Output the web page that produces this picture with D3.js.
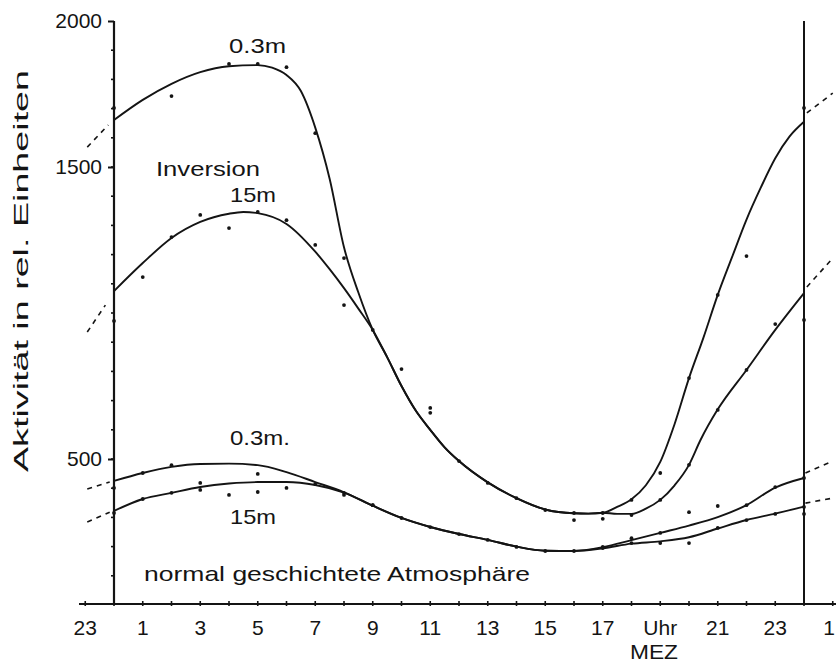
<!DOCTYPE html>
<html><head><meta charset="utf-8">
<script src="https://cdn.jsdelivr.net/npm/d3@7"></script>
<style>
body{margin:0;background:#fff}
text{font-family:"Liberation Sans",Arial,sans-serif;fill:#141414}
</style>
</head><body><svg id="c" width="836" height="664"></svg>
<script>
// ---------- data (hour of day MEZ, activity in rel. units) ----------
const inversion03Curve = [[0,1661],[1,1730],[2,1785],[3,1825],[4,1845],[5,1849],[5.5,1840],[6,1815],[6.5,1760],[7,1635],[7.5,1460],[8,1225],[8.5,1070],[9,942],[9.5,849],[10,750],[10.5,665],[11,600],[11.5,540],[12,493],[13,420],[14,366],[15,327],[16,314],[16.5,313],[17,316],[17.5,336],[18,362],[18.5,410],[19,490],[19.5,620],[20,777],[20.5,915],[21,1062],[21.5,1192],[22,1320],[22.5,1430],[23,1530],[23.5,1605],[24,1655]];
const inversion15Curve = [[0,1075],[1,1171],[2,1257],[3,1312],[4,1340],[4.5,1346],[5,1342],[6,1305],[7,1210],[7.5,1150],[8,1085],[8.5,1015],[9,942],[9.5,849],[10,750],[10.5,665],[11,600],[11.5,540],[12,493],[13,420],[14,366],[15,327],[16,314],[16.5,313],[17,316],[17.5,312],[18,312],[18.5,330],[19,360],[19.5,410],[20,480],[20.4,565],[21,670],[22,805],[23,942],[24,1068]];
const normal03Curve = [[0,425],[1,452],[2,473],[3,483],[4,484],[5,479],[6,455],[7,421],[8,386],[9,340],[10,298],[11,267],[12,243],[13,223],[14,200],[15,186],[16,185],[17,198],[18,222],[19,247],[20,272],[21,301],[22,342],[23,402],[24,435]];
const normal15Curve = [[0,322],[1,363],[2,384],[3,404],[4,416],[5,421],[6,421],[7,411],[8,385],[9,340],[10,298],[11,267],[12,243],[13,223],[14,200],[15,186],[16,185],[17,194],[18,210],[19,218],[20,232],[21,262],[22,291],[23,313],[24,337]];

const inversion03Dots = [[0,1702],[2,1743],[4,1853],[5,1853],[6,1842],[7,1616],[8,1188],[10,808],[11,675],[11,658],[12,493],[13,418],[14,366],[15,325],[16,291],[17,295],[18,360],[19,452],[20,777],[21,1062],[22,1195],[24,1702]];
const inversion15Dots = [[0,973],[1,1123],[2,1260],[3,1336],[4,1291],[5,1346],[6,1318],[7,1233],[8,1027],[9,942],[16,315],[17,315],[18,308],[19,360],[20,480],[21,668],[22,805],[23,962],[24,976]];
const normal03Dots = [[0,401],[1,452],[2,479],[3,418],[5,449],[7,414],[8,384],[9,342],[10,298],[11,267],[12,243],[13,223],[14,199],[15,185],[16,185],[17,199],[18,229],[19,247],[20,318],[21,339],[22,342],[23,404],[24,435]];
const normal15Dots = [[0,315],[1,363],[2,384],[3,394],[4,377],[5,387],[6,401],[8,377],[9,342],[17,195],[18,212],[19,212],[20,212],[21,264],[22,291],[23,312],[24,336],[24,312]];

const inversion03Ext = [[[-0.93,1568],[-0.2,1644]],[[24.1,1685],[25,1753]]];
const inversion15Ext = [[[-0.93,935],[-0.3,1027]],[[24.1,1089],[25,1188]]];
const normal03Ext = [[[-0.93,397],[-0.15,421]],[[24.05,452],[25,493]]];
const normal15Ext = [[[-0.93,284],[-0.15,318]],[[24.05,349],[25,366]]];

const xLabelHours = [-1,1,3,5,7,9,11,13,15,17,19,21,23,25];
const xTickLabels = ["23","1","3","5","7","9","11","13","15","17","Uhr","21","23","1"];
const yLabelTicks = [500,1500,2000];

// ---------- drawing ----------
const svg = d3.select("#c");
const ink = "#141414";
const x = d3.scaleLinear().domain([0,24]).range([114,804]);
const y = d3.scaleLinear().domain([0,2000]).range([605,21]);
const axisY = 604;

// axes lines
svg.append("line").attr("x1",79).attr("x2",836).attr("y1",axisY).attr("y2",axisY).attr("stroke",ink).attr("stroke-width",2.2);
svg.append("line").attr("x1",x(0)).attr("x2",x(0)).attr("y1",y(2000)).attr("y2",axisY).attr("stroke",ink).attr("stroke-width",2.2);
svg.append("line").attr("x1",x(24)).attr("x2",x(24)).attr("y1",y(2000)).attr("y2",axisY).attr("stroke",ink).attr("stroke-width",2);

// x hour ticks
svg.append("g").selectAll("line").data(d3.range(-1,26)).join("line")
  .attr("x1",d=>x(d)).attr("x2",d=>x(d)).attr("y1",axisY-3).attr("y2",axisY+2)
  .attr("stroke",ink).attr("stroke-width",1.6);
// x labels
svg.append("g").selectAll("text").data(xLabelHours).join("text")
  .attr("x",(d,i)=> i===xLabelHours.length-1 ? 835 : x(d)).attr("y",635)
  .attr("text-anchor",(d,i)=> i===xLabelHours.length-1 ? "end" : "middle")
  .attr("font-size",21).text((d,i)=>xTickLabels[i]);
svg.append("text").attr("x",654).attr("y",659).attr("text-anchor","middle").attr("font-size",20)
  .attr("textLength",48).attr("lengthAdjust","spacingAndGlyphs").text("MEZ");

// y axis minor ticks
svg.append("g").selectAll("line").data(d3.range(100,2000,100)).join("line")
  .attr("x1",x(0)-3).attr("x2",x(0)+1).attr("y1",d=>y(d)).attr("y2",d=>y(d))
  .attr("stroke",ink).attr("stroke-width",1.6);
// y labelled ticks
const yAxis = d3.axisLeft(y).tickValues(yLabelTicks).tickSize(6).tickPadding(6).tickFormat(d3.format("d"));
const gy = svg.append("g").attr("transform",`translate(${x(0)},0)`).call(yAxis);
gy.select(".domain").remove();
gy.selectAll(".tick line").attr("stroke",ink).attr("stroke-width",2);
gy.selectAll(".tick text").attr("font-size",21).attr("font-family","Liberation Sans, Arial, sans-serif").attr("fill",ink);

// y title
svg.append("text").attr("transform","translate(28,271) rotate(-90)").attr("text-anchor","middle")
  .attr("font-size",20).attr("textLength",402).attr("lengthAdjust","spacingAndGlyphs")
  .text("Aktivität in rel. Einheiten");

// curves
const line = d3.line().x(d=>x(d[0])).y(d=>y(d[1])).curve(d3.curveMonotoneX);
const straight = d3.line().x(d=>x(d[0])).y(d=>y(d[1]));
[inversion03Curve, inversion15Curve, normal03Curve, normal15Curve].forEach(c=>{
  svg.append("path").attr("d",line(c)).attr("fill","none").attr("stroke",ink).attr("stroke-width",1.9);
});
[...inversion03Ext, ...inversion15Ext, ...normal03Ext, ...normal15Ext].forEach(seg=>{
  svg.append("path").attr("d",straight(seg)).attr("fill","none").attr("stroke",ink)
    .attr("stroke-width",1.6).attr("stroke-dasharray","5,5");
});

// dots
[inversion03Dots, inversion15Dots, normal03Dots, normal15Dots].forEach(ds=>{
  svg.append("g").selectAll("circle").data(ds).join("circle")
    .attr("cx",d=>x(d[0])).attr("cy",d=>y(d[1])).attr("r",1.9).attr("fill",ink);
});

// annotations
const notes = [
  {t:"0.3m", x:229, y:53, w:57},
  {t:"Inversion", x:156, y:176, w:104},
  {t:"15m", x:230, y:202, w:46},
  {t:"0.3m.", x:230, y:445, w:60},
  {t:"15m", x:230, y:524, w:46},
  {t:"normal geschichtete Atmosphäre", x:144, y:581, w:386}
];
svg.append("g").selectAll("text").data(notes).join("text")
  .attr("x",d=>d.x).attr("y",d=>d.y).attr("font-size",21)
  .attr("textLength",d=>d.w).attr("lengthAdjust","spacingAndGlyphs").text(d=>d.t);
</script></body></html>
